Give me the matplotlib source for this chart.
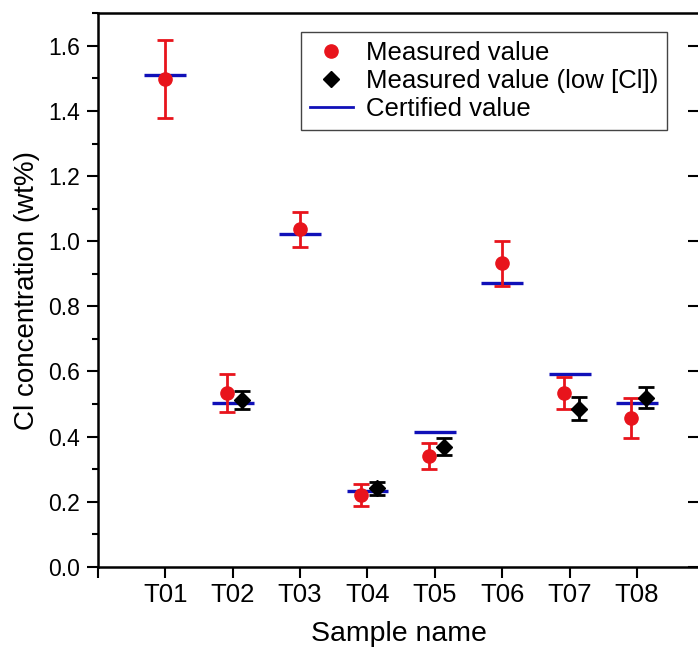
import numpy as np
import matplotlib
matplotlib.use('Agg')
import matplotlib.pyplot as plt
from matplotlib.lines import Line2D
from matplotlib.ticker import MultipleLocator

plt.rcParams['font.family'] = ['Liberation Sans', 'DejaVu Sans']

# ── Data ──────────────────────────────────────────────────────────────
samples = ['T01', 'T02', 'T03', 'T04', 'T05', 'T06', 'T07', 'T08']
certified = [1.51, 0.502, 1.023, 0.232, 0.413, 0.870, 0.592, 0.502]
measured = [1.497, 0.533, 1.036, 0.220, 0.341, 0.932, 0.533, 0.456]
measured_err = [0.120, 0.058, 0.053, 0.035, 0.040, 0.070, 0.050, 0.062]
low_samples = ['T02', 'T04', 'T05', 'T07', 'T08']
low_measured = [0.512, 0.241, 0.369, 0.486, 0.519]
low_err = [0.027, 0.020, 0.027, 0.034, 0.032]

RED = '#e8141c'
BLUE = '#1010b8'

x = np.arange(1, len(samples) + 1)
has_low = np.array([s in low_samples for s in samples])
x_red = x - 0.09 * has_low
x_low = np.array([samples.index(s) + 1 for s in low_samples]) + 0.14

fig = plt.figure(figsize=(6.98, 6.52), dpi=100)
ax = fig.add_axes([0.1404, 0.1308, 0.861, 0.8488])

ax.hlines(certified, x - 0.31, x + 0.31, color=BLUE, linewidth=2.4, zorder=2)
ax.errorbar(x_red, measured, yerr=measured_err, fmt='o', color=RED, ecolor=RED,
            markersize=9.5, elinewidth=2, capsize=6, capthick=2, zorder=3)
ax.errorbar(x_low, low_measured, yerr=low_err, fmt='D', color='black', ecolor='black',
            markersize=8, elinewidth=2, capsize=6, capthick=2, zorder=3)

ax.set_xlim(0, 8.92)
ax.set_ylim(0, 1.7)
ax.set_xticks(np.arange(0, 9))
ax.set_xticklabels([''] + samples, fontsize=18.5,
                   family=['Liberation Sans Narrow', 'Liberation Sans'])
ax.yaxis.set_minor_locator(MultipleLocator(0.1))
ax.set_yticks(np.arange(0, 1.61, 0.2))
ax.set_yticklabels([f'{v:.1f}' for v in np.arange(0, 1.61, 0.2)], fontsize=16.5)

ax.tick_params(axis='both', which='major', direction='out', length=8, width=1.5, pad=5)
ax.tick_params(axis='x', which='major', pad=4)
ax.tick_params(axis='y', which='minor', direction='out', length=4.5, width=1.5)
ax.tick_params(axis='y', which='major', right=True, labelright=False)
for t in ax.yaxis.get_majorticklines()[1::2]:
    t.set_marker(0)  # inward on right
for sp in ax.spines.values():
    sp.set_linewidth(1.8)

ax.set_xlabel('Sample name', fontsize=20.5, labelpad=10)
ax.set_ylabel('Cl concentration (wt%)', fontsize=20, labelpad=6)

handles = [
    Line2D([], [], marker='o', color=RED, linestyle='none', markersize=9.5),
    Line2D([], [], marker='D', color='black', linestyle='none', markersize=8),
    Line2D([], [], color=BLUE, linewidth=2),
]
labels = ['Measured value', 'Measured value (low [Cl])', 'Certified value']
leg = ax.legend(handles, labels, loc='upper left', bbox_to_anchor=(0.337, 0.966),
                fontsize=18.5, frameon=True, fancybox=False, edgecolor='#444444',
                framealpha=1, handlelength=1.7, handletextpad=0.5,
                labelspacing=0.15, borderpad=0.35, borderaxespad=0)
leg.get_frame().set_linewidth(1.0)

fig.savefig('out.png', dpi=100)
